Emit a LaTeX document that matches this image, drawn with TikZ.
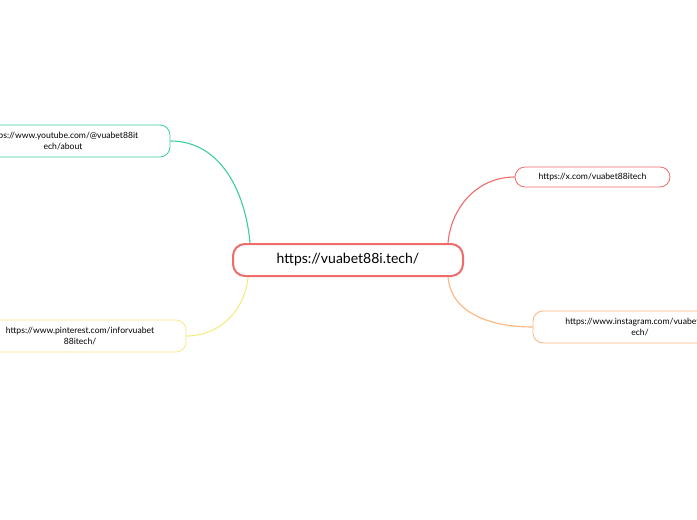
\documentclass[tikz,border=0pt]{standalone}
\usepackage{fontspec}
\setmainfont{Lato}
\definecolor{cred}{HTML}{F26B6B}
\definecolor{cgreen}{HTML}{3DCF9C}
\definecolor{cyel}{HTML}{F7EB85}
\definecolor{corg}{HTML}{FFB47E}
\begin{document}
\begin{tikzpicture}[x=1pt,y=-1pt,
  sub/.style={draw, rounded corners=10pt, line width=0.8pt, align=center, font=\fontsize{8.6}{11}\selectfont, inner sep=0pt, minimum height=32pt},
  link/.style={line width=1.1pt}]
\useasboundingbox[fill=white] (0,0) rectangle (697,520);
\begin{scope}
\clip (0,0) rectangle (697,520);
\node[draw=cred, line width=2pt, rounded corners=12pt, minimum width=230pt, minimum height=32pt, inner sep=0pt, font=\fontsize{14}{16}\selectfont] (c) at (348,260) {https://vuabet88i.tech/};
\node[sub, draw=cgreen, minimum width=214pt] (yt) at (63,141) {https://www.youtube.com/@vuabet88it\\ech/about};
\node[sub, draw=cyel, minimum width=212pt] (pi) at (80,336) {https://www.pinterest.com/inforvuabet\\88itech/};
\node[sub, draw=cred, minimum width=155pt, minimum height=20pt] (x) at (592.5,177) {https://x.com/vuabet88itech};
\node[sub, draw=corg, minimum width=214pt] (ig) at (640,327) {https://www.instagram.com/vuabet88it\\ech/};
\draw[link, cgreen] ([xshift=-98pt]c.north) to[out=95,in=0] (yt.east);
\draw[link, cyel] ([xshift=-100pt]c.south) to[out=-95,in=0] (pi.east);
\draw[link, cred] ([xshift=100pt]c.north) to[out=85,in=180] (x.west);
\draw[link, corg] ([xshift=100pt]c.south) to[out=-85,in=180] (ig.west);
\end{scope}
\end{tikzpicture}
\end{document}
